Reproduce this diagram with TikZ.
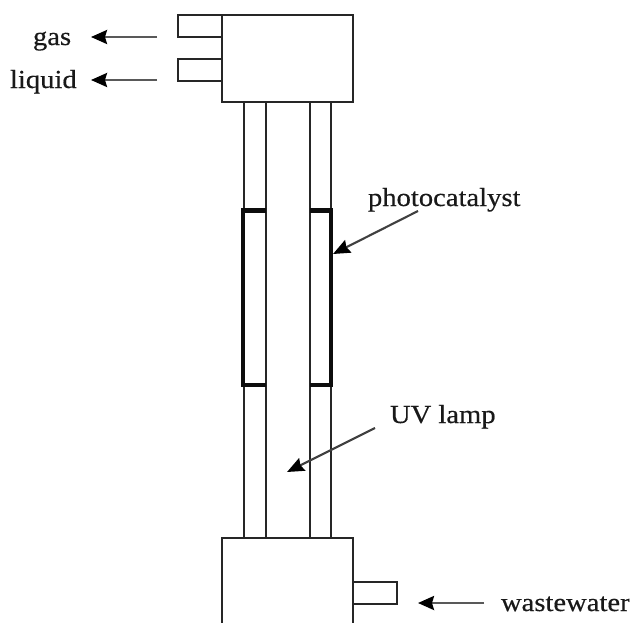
\documentclass[tikz,border=0pt]{standalone}
\usepackage{fontspec}
\setmainfont[FakeStretch=1.1,FakeBold=0.4]{Liberation Serif}
\usetikzlibrary{arrows.meta}
\tikzset{
  x=1pt,y=-1pt,
  wall/.style={draw=black!85,line width=2.2pt,line cap=rect,line join=miter},
  thickwall/.style={draw=black!95,line width=4.4pt,line join=miter},
  pointer/.style={draw=black!65,line width=2.4pt,-{Stealth[length=16pt,width=14pt,inset=2pt,color=black]}},
  pointerthin/.style={pointer,draw=black!75,line width=2.1pt,-{Stealth[length=17pt,width=14pt,inset=2pt,color=black]}},
  lab/.style={inner sep=0pt,outer sep=0pt,anchor=base west,text=black!90,font=\fontsize{26pt}{28pt}\selectfont}
}
\begin{document}
\begin{tikzpicture}
\useasboundingbox[fill=white] (0,0) rectangle (631,622);
% named geometry
\coordinate (ltA) at (244,102); \coordinate (ltB) at (266,102);
\coordinate (rtA) at (310,102); \coordinate (rtB) at (331,102);
\coordinate (lbA) at (244,538); \coordinate (lbB) at (266,538);
\coordinate (rbA) at (310,538); \coordinate (rbB) at (331,538);
% tubes
\draw[wall] (ltA) -- (lbA);
\draw[wall] (ltB) -- (lbB);
\draw[wall] (rtA) -- (rbA);
\draw[wall] (rtB) -- (rbB);
% top header and stubs
\draw[wall] (222,15) rectangle (353,102);
\draw[wall] (222,15) -- (178,15) -- (178,37) -- (222,37);
\draw[wall] (222,59) -- (178,59) -- (178,81) -- (222,81);
% bottom header, cut by the picture's lower edge
\draw[wall] (222,622) -- (222,538) -- (353,538) -- (353,622);
\draw[wall] (353,582) -- (397,582) -- (397,604) -- (353,604);
% photocatalyst sleeves
\draw[thickwall] (266,210.5) -- (243,210.5) -- (243,385) -- (266,385);
\draw[thickwall] (310,210.5) -- (331,210.5) -- (331,385) -- (310,385);
% labels
\node[lab] (gas) at (33,45) {gas};
\node[lab] (liquid) at (10,88) {liquid};
\node[lab] (photo) at (368,206) {photocatalyst};
\node[lab] (uv) at (390,423) {UV lamp};
\node[lab] (waste) at (501,611) {wastewater};
% arrow ends
\coordinate (gasS) at (157,37); \coordinate (gasE) at (91,37);
\coordinate (liqS) at (157,80); \coordinate (liqE) at (91,80);
\coordinate (wasS) at (484,603); \coordinate (wasE) at (418,603);
\coordinate (phoS) at (418,211); \coordinate (phoE) at (333,254);
\coordinate (uvS) at (375,428); \coordinate (uvE) at (287,472);
\draw[pointer] (gasS) -- (gasE);
\draw[pointer] (liqS) -- (liqE);
\draw[pointer] (wasS) -- (wasE);
\draw[pointerthin] (phoS) -- (phoE);
\draw[pointerthin] (uvS) -- (uvE);
\end{tikzpicture}
\end{document}
